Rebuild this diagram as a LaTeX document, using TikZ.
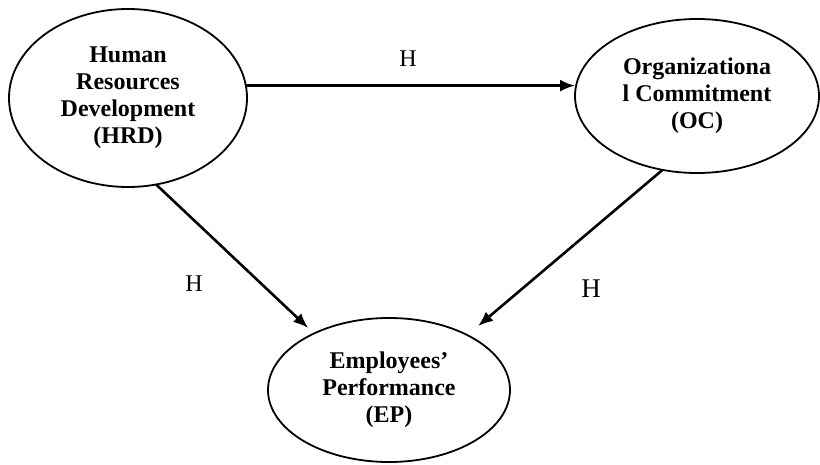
\documentclass[tikz,border=0pt]{standalone}
\usepackage{fontspec}
\setmainfont{Liberation Serif}
\usetikzlibrary{shapes.geometric}
\usetikzlibrary{arrows.meta}

\begin{document}
\begin{tikzpicture}
    [x=0.5pt,y=-0.5pt,
     every node/.style={font=\fontsize{12}{13.5}\selectfont}]

    \tikzstyle{construct} = [draw,ellipse,line width=0.9pt,inner sep=0pt,outer sep=0pt,
                             align=center,font=\fontsize{12}{13.5}\selectfont\bfseries]
    \tikzstyle{link}      = [-{Latex[length=7.5pt,width=6pt]},line width=1.3pt]
    \tikzstyle{hyp}       = [inner sep=0pt]

    \useasboundingbox (0,0) rectangle (820,465);

    \node [construct,minimum width=119pt,minimum height=89pt] (hrd) at (128,98)
          {Human\\Resources\\Development\\(HRD)} ;
    \node [construct,minimum width=122pt,minimum height=77pt] (oc) at (697,96)
          {Organizationa\\l Commitment\\(OC)} ;
    \node [construct,minimum width=121pt,minimum height=72pt] (ep) at (389,390)
          {Employees’\\Performance\\(EP)} ;

    \draw [link] (hrd.6) -- (hrd.6 -| oc.west) ;
    \draw [link,shorten >=4pt] (hrd.-72) -- (ep.143) ;
    \draw [link,shorten >=7pt] (oc.245) -- (ep.35) ;

    \node [hyp] (h1) at (408,59) {H} ;
    \node [hyp] (h2) at (194,284) {H} ;
    \node [hyp,font=\fontsize{13.5}{15}\selectfont] (h3) at (591,289) {H} ;
\end{tikzpicture}
\end{document}
